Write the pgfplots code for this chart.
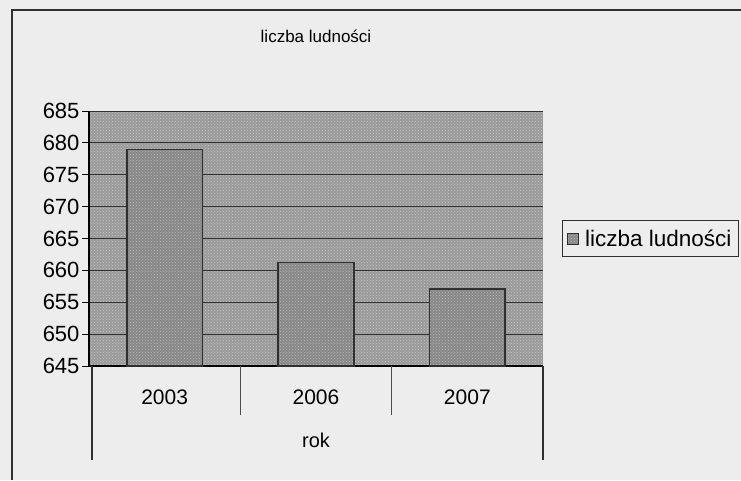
\documentclass[border=0pt]{standalone}
\usepackage{pgfplots}
\pgfplotsset{compat=1.18}
\usetikzlibrary{patterns}
\usepackage{fontspec}
\setmainfont{Liberation Sans}
\definecolor{paper}{HTML}{EDEDED}
\definecolor{plotbg}{HTML}{9A9A9A}
\definecolor{barfill}{HTML}{888888}
\definecolor{edge}{HTML}{303030}

\begin{document}
\begin{tikzpicture}[x=1pt,y=1pt]
\useasboundingbox (0,0) rectangle (741,480);
\fill[paper] (0,0) rectangle (741,480);
\draw[edge, line width=2pt] (12,0) -- (12,470) -- (741,470);
\begin{axis}[
  at={(89pt,114pt)}, anchor=south west,
  scale only axis, width=454pt, height=255pt,
  clip mode=individual,
  axis x line*=bottom, axis y line*=left,
  axis line style={black, line width=1.2pt},
  axis background/.style={fill=plotbg, postaction={pattern=crosshatch dots, pattern color=gray!45}},
  xmin=-0.5, xmax=2.5,
  xtick={0,1,2}, xticklabels={2003,2006,2007},
  major x tick style={draw=none},
  xticklabel style={yshift=-13pt, font=\fontsize{21}{23}\selectfont},
  ymin=645, ymax=685, ytick distance=5,
  tick align=outside, major tick length=7pt,
  ytick style={black, line width=1pt},
  ymajorgrids, grid style={edge, line width=1pt},
  yticklabel style={font=\fontsize{22}{24}\selectfont, xshift=1pt},
  /pgf/number format/assume math mode=true,
  title={liczba ludności},
  title style={at={(axis description cs:0.5,1)}, anchor=center, yshift=69pt, font=\fontsize{17}{19}\selectfont},
  xlabel={rok},
  xlabel style={at={(axis description cs:0.5,0)}, anchor=center, yshift=-74pt, font=\fontsize{20}{22}\selectfont},
  ybar, bar width=0.5,
  legend style={at={(1,0.5)}, anchor=west, xshift=19pt, draw=edge, fill=none,
    font=\fontsize{22.5}{24}\selectfont, inner xsep=5pt, inner ysep=7pt},
  legend image code/.code={\draw[fill=barfill, draw=edge, line width=0.9pt] (0pt,-5.5pt) rectangle (11pt,5.5pt);},
]
\addplot[fill=barfill, draw=edge, line width=1.4pt,
  postaction={pattern=crosshatch dots, pattern color=gray!55}]
  coordinates {(0,679) (1,661.2) (2,657.1)};
\addlegendentry{\hspace{4pt}liczba ludności\hspace{8pt}}
\draw[gray!60!black, line width=1.1pt] (axis cs:0.5,645) -- ++(0pt,-49pt);
\draw[gray!60!black, line width=1.1pt] (axis cs:1.5,645) -- ++(0pt,-49pt);
\draw[edge, line width=1.1pt] (axis cs:-0.48,645) -- ++(0pt,-94pt);
\draw[edge, line width=1.1pt] (axis cs:2.5,645) -- ++(0pt,-94pt);
\end{axis}
\end{tikzpicture}
\end{document}
